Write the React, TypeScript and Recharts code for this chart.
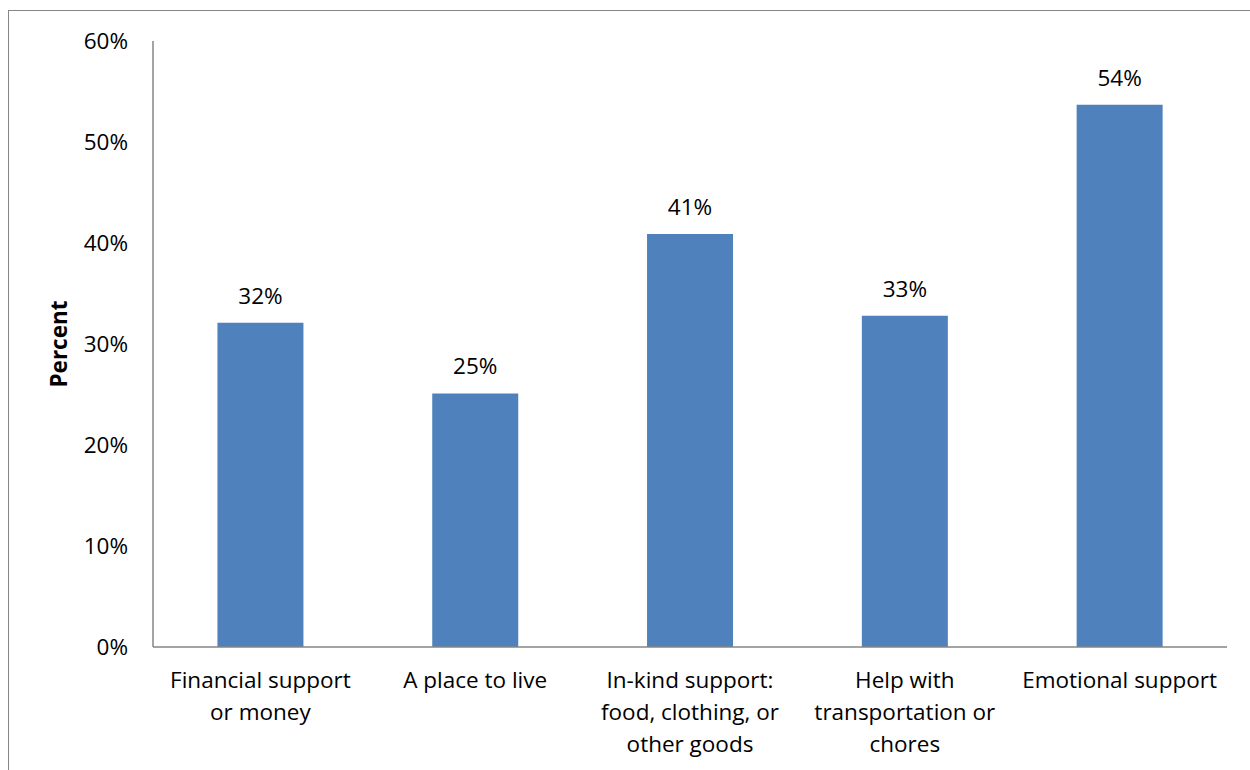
import React from 'react';
import { BarChart, Bar, XAxis, YAxis, LabelList } from 'recharts';

const categories = [
  'Financial support or money',
  'A place to live',
  'In-kind support: food, clothing, or other goods',
  'Help with transportation or chores',
  'Emotional support',
];

// category labels broken into lines as in the original
const categoryLines = [
  ['Financial support', 'or money'],
  ['A place to live'],
  ['In-kind support:', 'food, clothing, or', 'other goods'],
  ['Help with', 'transportation or', 'chores'],
  ['Emotional support'],
];

const percents = [32.1, 25.1, 40.9, 32.8, 53.7];
const yTicks = [0, 10, 20, 30, 40, 50, 60];

const data = categories.map((name, i) => ({ name, lines: categoryLines[i], value: percents[i] }));

const FONT = '"Open Sans", Lato, sans-serif';
const FS = 22.5;

const CategoryTick = (props: any) => {
  const { x, y, index } = props;
  const lines = categoryLines[index] || [];
  return (
    <text x={x} y={y} textAnchor="middle" fill="#000" fontSize={FS} fontFamily={FONT}>
      {lines.map((line, i) => (
        <tspan key={i} x={x} y={y + 41 + i * 32}>
          {line}
        </tspan>
      ))}
    </text>
  );
};

const PercentLabel = (props: any) => {
  const { viewBox } = props;
  const cy = viewBox.y + viewBox.height / 2;
  return (
    <text
      x={67}
      y={cy}
      transform={`rotate(-90, 67, ${cy})`}
      textAnchor="middle"
      fontSize={FS}
      fontWeight="bold"
      fontFamily={FONT}
      fill="#000"
    >
      Percent
    </text>
  );
};

export default function App() {
  return (
    <div style={{ position: 'relative', width: 1250, height: 770, overflow: 'hidden', background: '#fff' }}>
      <style>{'body{margin:0;overflow:hidden}'}</style>
      <div
        style={{
          position: 'absolute',
          left: 8,
          top: 10,
          width: 1300,
          height: 800,
          borderLeft: '1.5px solid #868686',
          borderTop: '1.5px solid #868686',
        }}
      />
      <div style={{ position: 'absolute', left: 0, top: 0 }}>
        <BarChart
          width={1250}
          height={770}
          data={data}
          margin={{ top: 41, right: 23, bottom: 0, left: 0 }}
          barCategoryGap="30%"
        >
          <XAxis
            dataKey="name"
            axisLine={{ stroke: '#868686', strokeWidth: 1.5 }}
            tickLine={false}
            tickSize={0}
            tickMargin={0}
            interval={0}
            tick={<CategoryTick />}
            height={123}
          />
          <YAxis
            width={153}
            domain={[0, 60]}
            ticks={yTicks}
            interval={0}
            axisLine={{ stroke: '#868686', strokeWidth: 1.5 }}
            tickLine={false}
            tickSize={0}
            tickMargin={25}
            tickFormatter={(v: number) => `${v}%`}
            tick={{ fill: '#000', fontSize: FS, fontFamily: FONT }}
            label={<PercentLabel />}
          />
          <Bar dataKey="value" fill="#4F81BD" isAnimationActive={false}>
            <LabelList
              dataKey="value"
              position="top"
              offset={19}
              formatter={(v: any) => `${Math.round(Number(v))}%`}
              style={{ fill: '#000', fontSize: FS, fontFamily: FONT }}
            />
          </Bar>
        </BarChart>
      </div>
    </div>
  );
}
